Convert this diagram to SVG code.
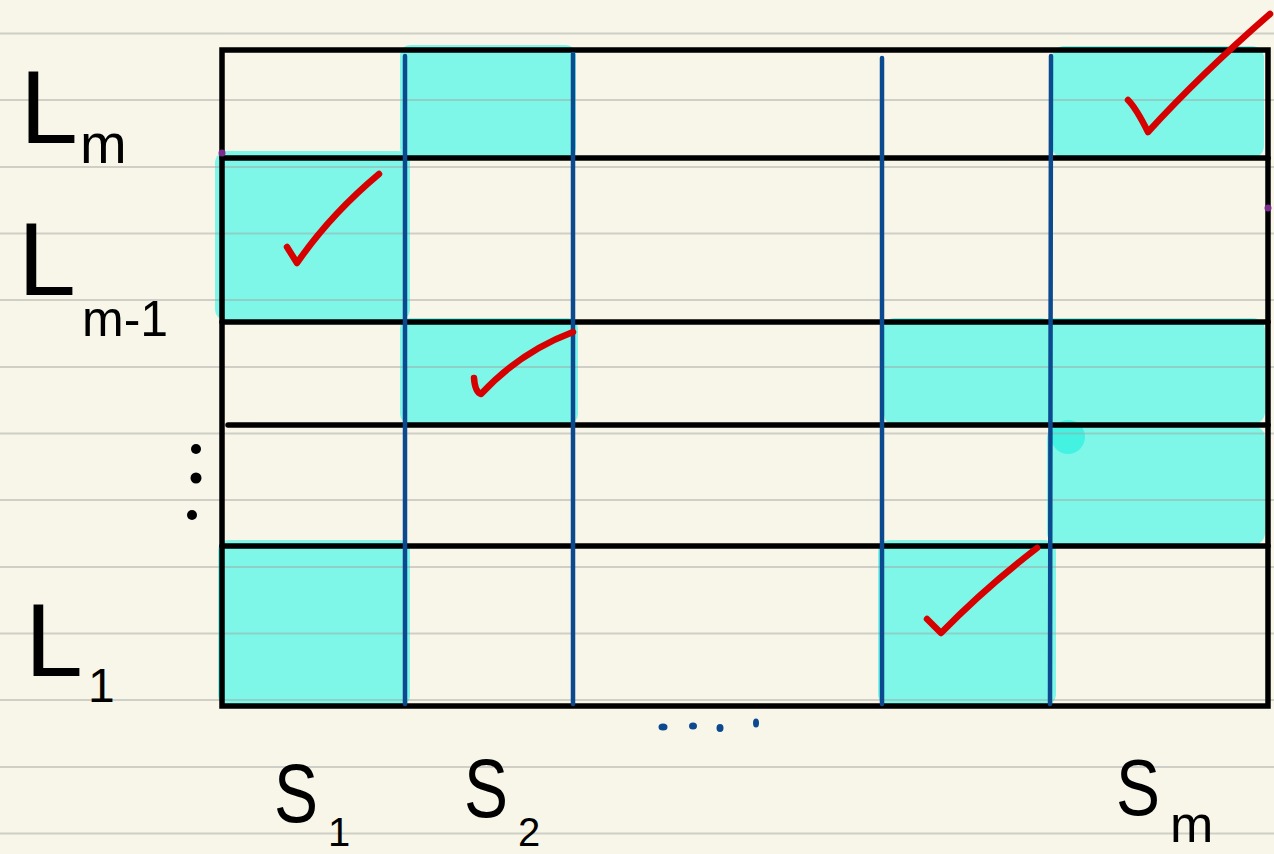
<svg xmlns="http://www.w3.org/2000/svg" width="1274" height="854" viewBox="0 0 1274 854">
<style>
.rule{stroke:#a0a0a0;stroke-opacity:0.45;stroke-width:2}
.fill{fill:#7ef7e8}
.blk{stroke:#000;stroke-width:5.5;stroke-linecap:round;fill:none}
.blu{stroke:#0b4a8f;stroke-width:4.5;stroke-linecap:round;fill:none}
.chk{stroke:#d60000;stroke-width:6.5;stroke-linecap:round;stroke-linejoin:round;fill:none}
.lbl{font-family:"Liberation Sans",Arial,sans-serif;fill:#000}
</style>
<rect width="1274" height="854" fill="#f8f6e8"/>
<g id="fills">
<rect class="fill" x="400" y="45" width="176" height="113" rx="10"/>
<rect class="fill" x="1052" y="46" width="212" height="112" rx="12"/>
<rect class="fill" x="215" y="151" width="195" height="170" rx="12"/>
<rect class="fill" x="400" y="318" width="178" height="106" rx="10"/>
<rect class="fill" x="884" y="318" width="168" height="107" rx="10"/>
<rect class="fill" x="1040" y="318" width="225" height="106" rx="12"/>
<rect class="fill" x="1047" y="426" width="218" height="119" rx="12"/>
<circle cx="1068" cy="437" r="17" fill="#44f2e2"/>
<rect class="fill" x="218" y="540" width="192" height="166" rx="10"/>
<rect class="fill" x="878" y="540" width="178" height="166" rx="12"/>
</g>
<g id="ruling">
<line class="rule" x1="0" y1="33.5" x2="1274" y2="33.5"/>
<line class="rule" x1="0" y1="100" x2="1274" y2="100"/>
<line class="rule" x1="0" y1="167" x2="1274" y2="167"/>
<line class="rule" x1="0" y1="233.5" x2="1274" y2="233.5"/>
<line class="rule" x1="0" y1="300" x2="1274" y2="300"/>
<line class="rule" x1="0" y1="367" x2="1274" y2="367"/>
<line class="rule" x1="0" y1="433.5" x2="1274" y2="433.5"/>
<line class="rule" x1="0" y1="500" x2="1274" y2="500"/>
<line class="rule" x1="0" y1="567" x2="1274" y2="567"/>
<line class="rule" x1="0" y1="633.5" x2="1274" y2="633.5"/>
<line class="rule" x1="0" y1="700" x2="1274" y2="700"/>
<line class="rule" x1="0" y1="767" x2="1274" y2="767"/>
<line class="rule" x1="0" y1="833.5" x2="1274" y2="833.5"/>
</g>
<g id="grid">
<rect class="blk" x="222" y="50" width="1046" height="656"/>
<line class="blk" x1="222" y1="158" x2="1268" y2="158"/>
<line class="blk" x1="222" y1="322" x2="1268" y2="322"/>
<line class="blk" x1="228" y1="425" x2="1268" y2="425"/>
<line class="blk" x1="222" y1="546" x2="1268" y2="546"/>
<line class="blu" x1="405" y1="56" x2="405" y2="704"/>
<line class="blu" x1="573" y1="54" x2="573" y2="704"/>
<line class="blu" x1="882" y1="58" x2="882" y2="704"/>
<line class="blu" x1="1051" y1="56" x2="1050" y2="704"/>
<circle cx="222" cy="153" r="3.5" fill="#7b2d8e"/>
<circle cx="1268" cy="208" r="3.5" fill="#7b2d8e"/>
</g>
<g id="checks">
<path class="chk" d="M1128,100 Q1136,108 1148,132 Q1200,75 1270,14"/>
<path class="chk" d="M287,247 L297,263 Q330,215 379,174"/>
<path class="chk" d="M474,378 Q475,392 481,394 Q520,352 573,332"/>
<path class="chk" d="M927,619 L941,633 Q985,588 1037,548"/>
</g>
<g id="dots">
<circle cx="196" cy="449" r="5"/>
<circle cx="196" cy="478" r="5.5"/>
<circle cx="192" cy="515" r="5"/>
<g fill="#0b4a8f">
<ellipse cx="663" cy="727" rx="4.5" ry="3.5"/>
<ellipse cx="693" cy="726" rx="4" ry="3.5"/>
<ellipse cx="720" cy="728" rx="3.5" ry="4"/>
<ellipse cx="756" cy="723" rx="3" ry="4.5"/>
</g>
</g>
<g id="row-labels">
<g id="label-Lm"><text class="lbl" x="20" y="143" font-size="104">L</text><text class="lbl" x="80" y="163" font-size="56">m</text></g>
<g id="label-Lm-1"><text class="lbl" x="18" y="295" font-size="104">L</text><text class="lbl" x="82" y="336" font-size="50">m-1</text></g>
<g id="label-L1"><text class="lbl" x="25" y="676" font-size="104">L</text><text class="lbl" x="88" y="702" font-size="48">1</text></g>
</g>
<g id="col-labels">
<g id="label-S1"><text class="lbl" x="274" y="822" font-size="84" textLength="44" lengthAdjust="spacingAndGlyphs">S</text><text class="lbl" x="328" y="846" font-size="40">1</text></g>
<g id="label-S2"><text class="lbl" x="464" y="817" font-size="84" textLength="44" lengthAdjust="spacingAndGlyphs">S</text><text class="lbl" x="518" y="846" font-size="40">2</text></g>
<g id="label-Sm"><text class="lbl" x="1116" y="815" font-size="80" textLength="44" lengthAdjust="spacingAndGlyphs">S</text><text class="lbl" x="1170" y="842" font-size="52">m</text></g>
</g>
</svg>
